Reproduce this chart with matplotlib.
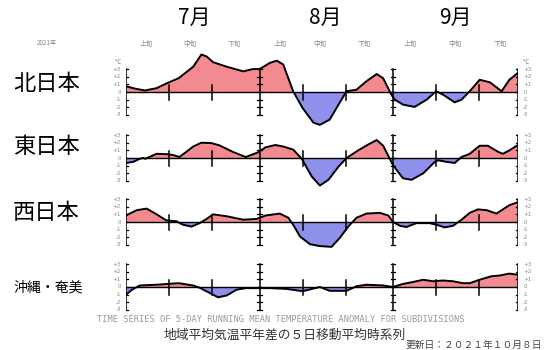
import matplotlib
matplotlib.use("Agg")
import matplotlib.pyplot as plt
import numpy as np

plt.rcParams['font.family'] = ['Noto Sans CJK JP', 'DejaVu Sans']

# ---- data (day 0 = Jul 1, day 91 = Sep 30) ----
regions = ["北日本", "東日本", "西日本", "沖縄・奄美"]
months = ["7月", "8月", "9月"]
dekads = ["上旬", "中旬", "下旬"]
ytick_labels = ["+3", "+2", "+1", "0", "-1", "-2", "-3"]

north_days = [0, 2, 4.4, 7.1, 9.7, 12.2, 15.6, 17.5, 18.7, 20.2, 23.4, 27.2, 29.5, 31, 33.4, 35,
              36.5, 38.8, 41, 43.5, 45, 47.3, 49.6, 51.2, 53.5, 55.8, 58.2, 59.7, 61.6, 62.4,
              64.3, 67, 69.8, 72, 73.6, 76.3, 77.9, 79.8, 82.1, 84.5, 87.2, 89, 91]
north_vals = [0.75, 0.45, 0.2, 0.5, 1.2, 1.8, 3.3, 4.9, 4.65, 3.9, 3.3, 2.7, 3.0, 3.0, 3.8, 4.1,
              3.6, 0.1, -2.1, -4.0, -4.3, -3.6, -1.4, 0.1, 0.3, 1.4, 2.35, 1.8, -0.35, -1.0,
              -1.65, -1.95, -1.0, 0.1, -0.35, -1.35, -1.0, 0.1, 1.6, 1.26, 0.1, 1.6, 2.5]

east_days = [0, 1.7, 3.2, 4.0, 4.5, 7.1, 9.4, 10.9, 12.4, 14, 15.6, 17.5, 19.8, 21.7, 24.8, 27.8,
             30.5, 32.4, 34.7, 36.5, 38.8, 40.8, 43.1, 45, 47, 49.3, 51.2, 53.9, 56.2, 58.2,
             59.7, 62, 64.3, 66.3, 69, 71.7, 72.5, 74.4, 76.3, 77.9, 79.8, 82.1, 84, 86.4, 87.5,
             89, 91]
east_vals = [-0.65, -0.5, -0.1, 0.0, -0.1, 0.55, 0.5, 0.4, 0.13, 0.8, 1.5, 2.0, 1.95, 1.65, 0.8, 0.13,
             0.7, 1.4, 1.7, 1.5, 1.1, -0.1, -2.4, -3.6, -2.85, -1.15, 0.0, 1.0, 1.75, 2.35,
             1.6, -0.95, -2.65, -2.85, -2.0, -0.5, -0.3, -0.5, -0.65, 0.13, 0.55, 1.6, 1.6, 0.8, 0.55,
             1.0, 1.7]

west_days = [0, 2.5, 4.8, 7.1, 9.4, 11.7, 13.2, 15.2, 17.1, 18.7, 20.2, 23.4, 27.2, 30.3, 32.4,
             35.7, 37.7, 38.8, 40.4, 42.7, 45, 47.7, 49.6, 51.6, 53.5, 55.8, 58.9, 60.9, 62, 63.6,
             65.1, 67.4, 70.5, 72, 74, 75.9, 77.9, 79.8, 81.7, 83.7, 86, 87.5, 89, 91]
west_vals = [0.85, 1.55, 1.75, 1.0, 0.2, 0.1, -0.35, -0.6, -0.15, 0.4, 1.0, 0.75, 0.3, 0.4, 0.85,
             1.1, 0.55, -0.35, -1.9, -2.9, -3.15, -3.25, -2.1, -0.6, 0.55, 1.1, 1.2, 0.85, 0.0, -0.5,
             -0.65, -0.15, -0.15, -0.35, -0.7, -0.5, 0.3, 1.2, 1.65, 1.55, 1.1, 1.65, 2.2, 2.6]

okinawa_days = [0, 1.4, 3.2, 7.1, 9.7, 12.2, 15.6, 17.1, 19.5, 21.4, 23.4, 25.7, 27.8, 30.9, 33.4,
                37.3, 41, 45, 47.3, 51.2, 53.5, 55.8, 59.7, 62, 64.3, 66.6, 69, 71.3, 73.6, 75.9,
                78.2, 79.8, 82.1, 84.8, 86.7, 89, 91]
okinawa_vals = [-1.0, -0.35, 0.2, 0.3, 0.4, 0.5, 0.2, -0.1, -0.8, -1.35, -1.1, -0.35, -0.15, -0.15, -0.15,
                -0.25, -0.55, 0.0, -0.5, -0.5, 0.1, 0.3, 0.2, 0.0, 0.4, 0.65, 0.95, 0.75, 0.85, 0.75,
                0.5, 0.5, 0.95, 1.4, 1.5, 1.75, 1.6]

series = [(north_days, north_vals), (east_days, east_vals),
          (west_days, west_vals), (okinawa_days, okinawa_vals)]

month_starts = [0, 31, 62]
dekad_starts = [10, 20, 41, 51, 72, 82]
x_end = 91

RED = "#f28a90"
BLUE = "#8f8fec"
GREY = "#888888"

W, H = 550, 350
fig = plt.figure(figsize=(W / 100, H / 100), dpi=100)
fig.patch.set_facecolor("white")

ax_left_px, ax_right_px = 126, 518
zero_px = [92, 158, 222, 287]
label_px = [83, 147, 212, 288]
label_size = [16, 16, 16, 10]
unit_px = 7.65
ylim = 5.5

for i, (days, vals) in enumerate(series):
    half = ylim * unit_px
    bottom = (H - (zero_px[i] + half)) / H
    ax = fig.add_axes([ax_left_px / W, bottom, (ax_right_px - ax_left_px) / W, 2 * half / H])
    ax.set_xlim(0, x_end)
    ax.set_ylim(-ylim, ylim)
    ax.axis("off")
    ax.patch.set_alpha(0)
    d = np.array(days, dtype=float)
    v = np.array(vals, dtype=float)
    ax.fill_between(d, v, 0, where=v >= 0, interpolate=True, color=RED, lw=0)
    ax.fill_between(d, v, 0, where=v <= 0, interpolate=True, color=BLUE, lw=0)
    ax.plot(d, v, color="black", lw=1.4, solid_joinstyle="round")
    ax.plot([0, x_end], [0, 0], color="black", lw=1.0)
    for xv in month_starts + [x_end]:
        ax.plot([xv, xv], [-3, 3], color="black", lw=1.1)
        for yv in range(-3, 4):
            ax.plot([xv - 0.5, xv + 0.5], [yv, yv], color="black", lw=0.9)
    for xv in dekad_starts:
        ax.plot([xv, xv], [-1.0, 0.9], color="black", lw=1.1)
    for k, yv in enumerate(range(3, -4, -1)):
        ax.text(-1.2, yv, ytick_labels[k], fontsize=4, color=GREY, ha="right", va="center",
                family="DejaVu Sans")
        ax.text(x_end + 1.2, yv, ytick_labels[k], fontsize=4, color=GREY, ha="left", va="center",
                family="DejaVu Sans")
    if i == 0:
        ax.text(-1.2, 3.9, "℃", fontsize=4.5, color=GREY, ha="right", va="center")
        ax.text(x_end + 1.2, 3.9, "℃", fontsize=4.5, color=GREY, ha="left", va="center")

    fig.text(13 / W, 1 - label_px[i] / H, regions[i], fontsize=label_size[i], ha="left",
             va="center", color="black")

for j, m in enumerate(months):
    xc = [194, 325, 455][j]
    fig.text(xc / W, 1 - 18 / H, m, fontsize=15, ha="center", va="center", color="black")

dek_x = [146, 190, 234, 280, 320, 364, 410, 455, 500]
for j, xc in enumerate(dek_x):
    fig.text(xc / W, 1 - 44 / H, dekads[j % 3], fontsize=4.8, ha="center", va="center",
             color=GREY)

fig.text(47 / W, 1 - 43 / H, "2021年", fontsize=4.5, ha="center", va="center", color=GREY)

fig.text(281 / W, 1 - 320 / H,
         "TIME SERIES OF 5-DAY RUNNING MEAN TEMPERATURE ANOMALY FOR SUBDIVISIONS",
         fontsize=6.2, ha="center", va="center", color="#999999", family="DejaVu Sans Mono")
fig.text(285 / W, 1 - 335 / H, "地域平均気温平年差の５日移動平均時系列", fontsize=9.2,
         ha="center", va="center", color="#333333")
fig.text(474 / W, 1 - 345 / H, "更新日：２０２１年１０月８日", fontsize=7, ha="center",
         va="center", color="#444444")

fig.savefig("out.png", dpi=100, facecolor="white")
